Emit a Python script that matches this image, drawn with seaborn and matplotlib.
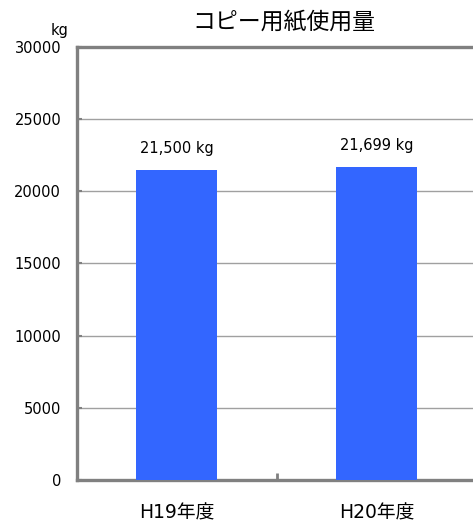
import matplotlib
matplotlib.use("Agg")
import matplotlib.pyplot as plt
import seaborn as sns
import pandas as pd

# ── Data ─────────────────────────────────────────────────────────────────────
years  = ["H19年度", "H20年度"]
usage  = [21500, 21699]
labels = ["21,500 kg", "21,699 kg"]

BAR_COLOR  = "#3366FF"
AXIS_COLOR = "#808080"

sns.set_theme(style="white")
plt.rcParams['font.family'] = ['DejaVu Sans', 'Noto Sans CJK JP']

df = pd.DataFrame({"year": years, "usage": usage})

fig = plt.figure(figsize=(4.73, 5.25), dpi=100)
ax = fig.add_axes([76.5 / 473, 1 - 480 / 525, 400 / 473, 433 / 525])

sns.barplot(data=df, x="year", y="usage", color=BAR_COLOR, saturation=1,
            width=0.405, linewidth=0, ax=ax, zorder=3)

ax.set_ylim(0, 30000)
ax.set_xlim(-0.5, 1.5)
ax.set_yticks(range(0, 30001, 5000))
ax.yaxis.grid(True, color="#a0a0a0", linewidth=1.0, zorder=0)
ax.set_axisbelow(True)

for s in ["left", "bottom", "top"]:
    ax.spines[s].set_visible(True)
    ax.spines[s].set_color(AXIS_COLOR)
    ax.spines[s].set_linewidth(2.4)
ax.spines["right"].set_visible(False)

ax.tick_params(axis="y", direction="in", length=3.5, width=1.5, color=AXIS_COLOR,
               labelsize=10.5, pad=11, left=True)
ax.tick_params(axis="x", length=0, labelsize=13.5, pad=17)
ax.set_xticks([0.5], minor=True)
ax.tick_params(axis="x", which="minor", direction="in", length=5, width=2,
               color=AXIS_COLOR, bottom=True)
for t in ax.get_yticklabels() + ax.get_xticklabels():
    t.set_color("black")

ax.set_xlabel("")
ax.set_ylabel("")

# value labels above bars
for i, (v, lab) in enumerate(zip(usage, labels)):
    ax.text(i, v + 1500, lab, ha="center", va="center", fontsize=10.5, color="black")

fig.text(284 / 473, 1 - 22 / 525, "コピー用紙使用量", ha="center", va="center",
         fontsize=16.5, color="black", family=['Noto Sans CJK JP', 'DejaVu Sans'])
fig.text(60 / 473, 1 - 31 / 525, "kg", ha="center", va="center",
         fontsize=10.5, color="black")

fig.savefig("out.png", dpi=100)
